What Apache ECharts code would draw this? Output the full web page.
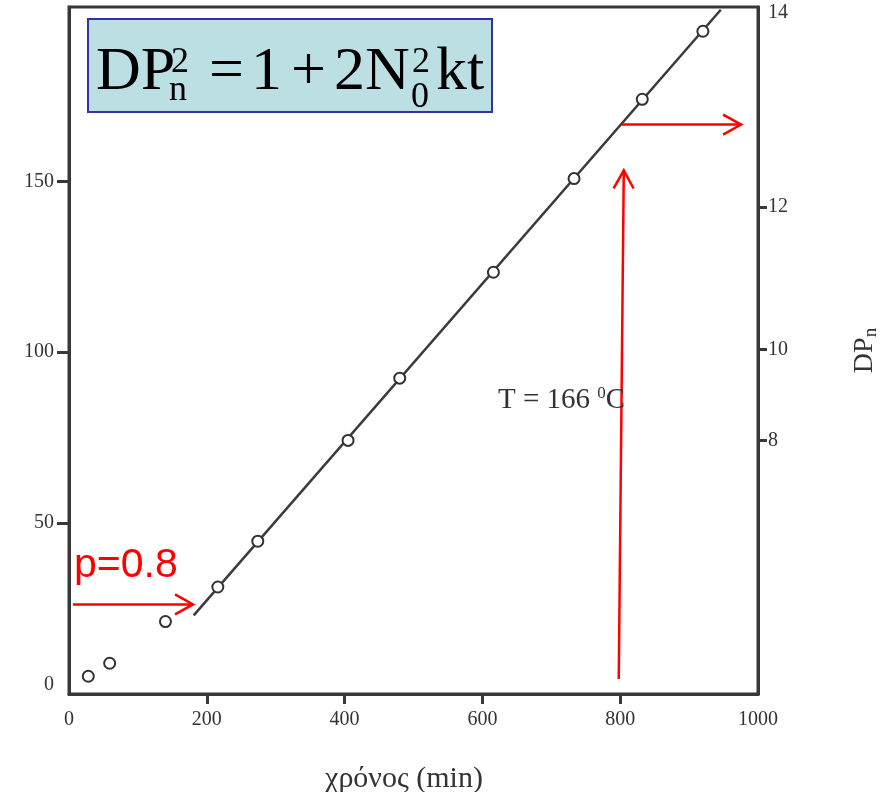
<!DOCTYPE html>
<html>
<head>
<meta charset="utf-8">
<script src="https://cdn.jsdelivr.net/npm/echarts@6/dist/echarts.min.js"></script>
<style>
    html, body { margin: 0; padding: 0; background: #fff; }
    #chart { width: 885px; height: 792px; }
</style>
</head>
<body>
<div id="chart"></div>
<script>
// measured points: time (min) vs DPn^2
var timeData = [28, 59, 140, 216, 274, 405, 480, 616, 733, 832, 920];
var dpSqData = [5.2, 9.0, 21.2, 31.3, 44.7, 74.2, 92.4, 123.4, 150.8, 174.0, 193.9];
// fitted straight line (ends)
var fitX = [181, 946];
var fitY = [23, 200.2];
// axis ticks
var xLabels = [0, 200, 400, 600, 800, 1000];
var xTicks = [200, 400, 600, 800];
var leftLabels = [0, 50, 100, 150];
var leftTicks = [50, 100, 150];
var rightTickPos = [74.2, 100.8, 142.5, 199.2];
var rightTickLabels = ['8', '10', '12', '14'];
var rightTicks = [74.2, 100.8, 142.5];
// red arrows [x1, y1, x2, y2] in data units
var arrows = [
    [5.6, 26.2, 180, 26.2],
    [797.9, 4.4, 805.2, 153.2],
    [801.9, 166.6, 975.4, 166.6]
];

var serif = 'Liberation Serif, Times New Roman, serif';
var axisColor = '#383838';

var chart = echarts.init(document.getElementById('chart'));

function zip(a, b) {
    var out = [];
    for (var i = 0; i < a.length; i++) out.push([a[i], b[i]]);
    return out;
}

function renderArrow(params, api) {
    var p1 = api.coord([api.value(0), api.value(1)]);
    var p2 = api.coord([api.value(2), api.value(3)]);
    var dx = p2[0] - p1[0], dy = p2[1] - p1[1];
    var len = Math.sqrt(dx * dx + dy * dy);
    var ux = dx / len, uy = dy / len;
    var hl = 18, hw = 10;
    var a1 = [p2[0] - ux * hl - uy * hw, p2[1] - uy * hl + ux * hw];
    var a2 = [p2[0] - ux * hl + uy * hw, p2[1] - uy * hl - ux * hw];
    var st = { stroke: '#ff0000', lineWidth: 2.5, fill: null };
    return {
        type: 'group',
        children: [
            { type: 'line', shape: { x1: p1[0], y1: p1[1], x2: p2[0], y2: p2[1] }, style: st },
            { type: 'polyline', shape: { points: [a1, p2, a2] }, style: st }
        ]
    };
}

var option = {
    animation: false,
    backgroundColor: '#fff',
    grid: {
        left: 69, right: 127, top: 7, bottom: 98,
        outerBoundsMode: 'none', containLabel: false,
        show: true, borderColor: axisColor, borderWidth: 3, backgroundColor: 'transparent'
    },
    xAxis: {
        type: 'value', min: 0, max: 1000,
        name: 'χρόνος (min)', nameLocation: 'middle', nameGap: 70,
        nameTextStyle: { fontFamily: serif, fontSize: 30, color: '#333', padding: [0, 19, 0, 0] },
        axisLine: { show: true, lineStyle: { color: axisColor, width: 3 } },
        axisTick: { show: true, length: 10, customValues: xTicks, lineStyle: { color: axisColor, width: 3 } },
        axisLabel: {
            customValues: xLabels, margin: 16, fontFamily: serif, fontSize: 20, color: '#333',
            formatter: function (v) { return String(v); }
        },
        splitLine: { show: false }
    },
    yAxis: [{
        type: 'value', min: 0, max: 201, position: 'left',
        axisLine: { show: true, lineStyle: { color: axisColor, width: 3 } },
        axisTick: { show: true, length: 12, customValues: leftTicks, lineStyle: { color: axisColor, width: 3 } },
        axisLabel: {
            customValues: leftLabels, margin: 15, fontFamily: serif, fontSize: 20, color: '#333',
            formatter: function (v) { return v === 0 ? '{z|0}' : String(v); },
            rich: { z: { fontFamily: serif, fontSize: 20, color: '#333', padding: [0, 0, 18, 0] } }
        },
        splitLine: { show: false }
    }, {
        type: 'value', min: 0, max: 201, position: 'right',
        name: 'DP{n|n}', nameLocation: 'middle', nameGap: 90, nameRotate: 90,
        nameTextStyle: {
            fontFamily: serif, fontSize: 28, color: '#333',
            rich: { n: { fontFamily: serif, fontSize: 19, color: '#333', verticalAlign: 'bottom', padding: [14, 0, 0, 0] } }
        },
        axisLine: { show: true, lineStyle: { color: axisColor, width: 3 } },
        axisTick: { show: true, length: 9, customValues: rightTicks, lineStyle: { color: axisColor, width: 3 } },
        axisLabel: {
            customValues: rightTickPos, margin: 10, fontFamily: serif, fontSize: 20, color: '#333',
            formatter: function (v) {
                for (var i = 0; i < rightTickPos.length; i++) {
                    if (Math.abs(rightTickPos[i] - v) < 0.01) return rightTickLabels[i];
                }
                return '';
            }
        },
        splitLine: { show: false }
    }],
    series: [{
        type: 'line',
        data: zip(fitX, fitY),
        showSymbol: false,
        lineStyle: { color: '#3a3a3a', width: 2.5 },
        z: 2
    }, {
        type: 'scatter',
        data: zip(timeData, dpSqData),
        symbol: 'circle',
        symbolSize: 11,
        itemStyle: { color: '#fff', borderColor: '#333', borderWidth: 2, opacity: 1 },
        z: 3
    }, {
        type: 'custom',
        data: arrows,
        renderItem: renderArrow,
        encode: { x: [0, 2], y: [1, 3] },
        clip: false,
        z: 4
    }],
    graphic: [
        { type: 'rect', shape: { x: 88, y: 19, width: 404, height: 93 },
          style: { fill: '#bbdfe3', stroke: '#3333a0', lineWidth: 2 }, z: 10 },
        { type: 'text', x: 96, y: 73, style: { text: 'DP', font: '62px ' + serif, fill: '#000', verticalAlign: 'middle' }, z: 11 },
        { type: 'text', x: 171, y: 63, style: { text: '2', font: '36px ' + serif, fill: '#000', verticalAlign: 'middle' }, z: 11 },
        { type: 'text', x: 169, y: 91, style: { text: 'n', font: '36px ' + serif, fill: '#000', verticalAlign: 'middle' }, z: 11 },
        { type: 'text', x: 209, y: 73, style: { text: '=', font: '62px ' + serif, fill: '#000', verticalAlign: 'middle' }, z: 11 },
        { type: 'text', x: 251, y: 73, style: { text: '1', font: '62px ' + serif, fill: '#000', verticalAlign: 'middle' }, z: 11 },
        { type: 'text', x: 291, y: 73, style: { text: '+', font: '62px ' + serif, fill: '#000', verticalAlign: 'middle' }, z: 11 },
        { type: 'text', x: 334, y: 73, style: { text: '2N', font: '62px ' + serif, fill: '#000', verticalAlign: 'middle' }, z: 11 },
        { type: 'text', x: 412, y: 63, style: { text: '2', font: '36px ' + serif, fill: '#000', verticalAlign: 'middle' }, z: 11 },
        { type: 'text', x: 411, y: 98, style: { text: '0', font: '36px ' + serif, fill: '#000', verticalAlign: 'middle' }, z: 11 },
        { type: 'text', x: 436, y: 73, style: { text: 'kt', font: '62px ' + serif, fill: '#000', verticalAlign: 'middle' }, z: 11 },
        { type: 'text', x: 498, y: 400, style: {
            text: 'T = 166 {s|0}C', font: '29px ' + serif, fill: '#333', verticalAlign: 'middle',
            rich: { s: { fontFamily: serif, fontSize: 17, fill: '#333', verticalAlign: 'top' } }
        }, z: 11 },
        { type: 'text', x: 74, y: 566, style: { text: 'p=0.8', font: '41px Liberation Sans, Arial, sans-serif', fill: '#ff0000', verticalAlign: 'middle' }, z: 11 }
    ]
};

chart.setOption(option);
</script>
</body>
</html>
